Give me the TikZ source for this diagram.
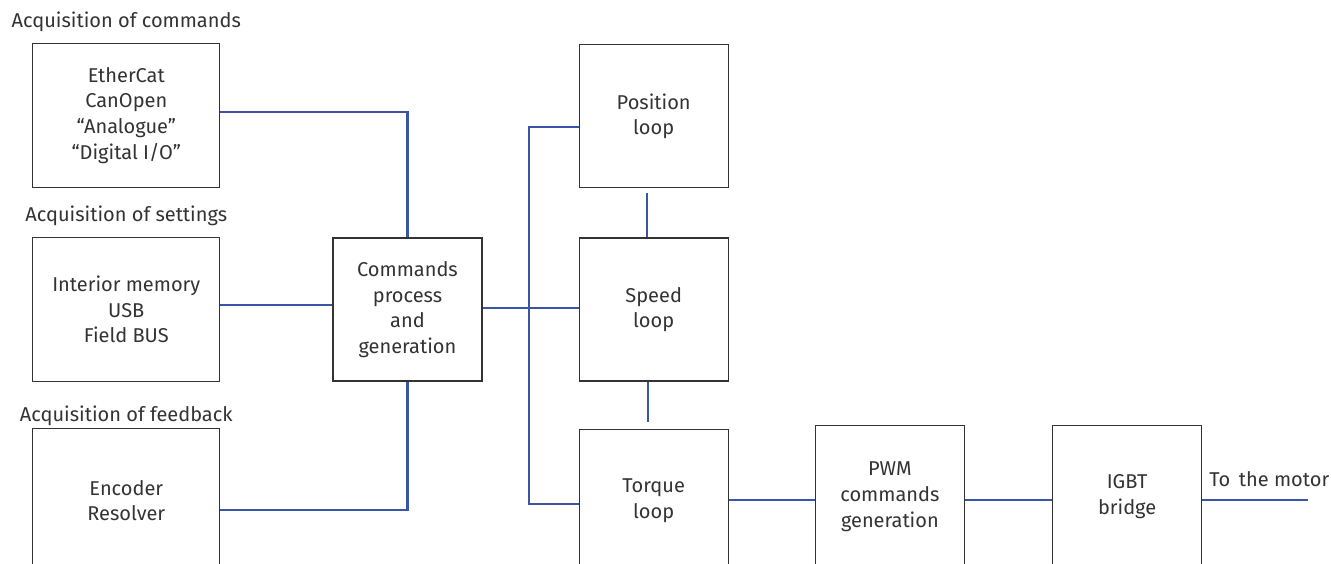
\documentclass[tikz,border=0pt]{standalone}
\usepackage{fontspec}
\setmainfont{Fira Sans}
\usepackage{xcolor}
\usetikzlibrary{positioning,calc}
\definecolor{linkblue}{HTML}{3B55A5}
\definecolor{boxgray}{HTML}{333333}

\begin{document}
\begin{tikzpicture}[
    x=1pt, y=-1pt,
    every node/.style={font=\fontsize{20}{25.7}\selectfont, text=boxgray},
    block/.style={rectangle, draw=boxgray, line width=1.2pt, align=center, minimum width=149pt, minimum height=143pt, inner sep=0pt},
    source/.style={block, minimum width=187pt, minimum height=144pt},
    title/.style={inner sep=0pt, anchor=base},
    link/.style={draw=linkblue, line width=2.8pt}
]
\useasboundingbox (0,0) rectangle (1331,563);
\clip (0,0) rectangle (1331,563);

\node [block] (cmd) at (407.5,309.5) {Commands\\process\\and\\generation};
\node [block, right=96pt of cmd] (speed) {Speed\\loop};
\node [block, above=49pt of speed] (position) {Position\\loop};
\node [block, below=47pt of speed] (torque) {Torque\\loop};
\node [block, right=86pt of torque, yshift=4pt] (pwm) {PWM\\commands\\generation};
\node [block, right=87pt of pwm] (igbt) {IGBT\\bridge};

\node [source, left=112pt of cmd] (settings) {Interior memory\\USB\\Field BUS};
\node [source, above=49pt of settings] (commands) {EtherCat\\CanOpen\\“Analogue”\\“Digital I/O”};
\node [source, below=46pt of settings] (feedback) {Encoder\\Resolver};

\node [title] at ($(commands.north)+(0,-15)$) {Acquisition of commands};
\node [title] at ($(settings.north)+(0,-15)$) {Acquisition of settings};
\node [title] at ($(feedback.north)+(0,-7)$) {Acquisition of feedback};

\coordinate (motor) at (1308,500);
\coordinate (bus) at (529,308);

% inputs to command processing
\draw [link] (commands.east |- 0,112) -| (cmd.north);
\draw [link] (settings.east |- 0,305) -- (cmd.west |- 0,305);
\draw [link] (feedback.east |- 0,510) -| (cmd.south);

% command processing to the loops
\draw [link] (cmd.east |- bus) -- (speed.west |- bus);
\draw [link] (position.west |- 0,127) -| (bus) |- (torque.west |- 0,504);
\draw [link, shorten <=5pt] (position.south -| 647,0) -- (speed.north -| 647,0);
\draw [link, shorten >=7pt] (speed.south -| 648,0) -- (torque.north -| 648,0);

% power stage
\draw [link] (torque.east |- motor) -- (pwm.west |- motor);
\draw [link] (pwm.east |- motor) -- (igbt.west |- motor);
\draw [link] (igbt.east |- motor) -- (motor);
\node [title, anchor=base west] at ($(igbt.east |- motor)+(7,-14)$) {To\, the motor};

\end{tikzpicture}
\end{document}
